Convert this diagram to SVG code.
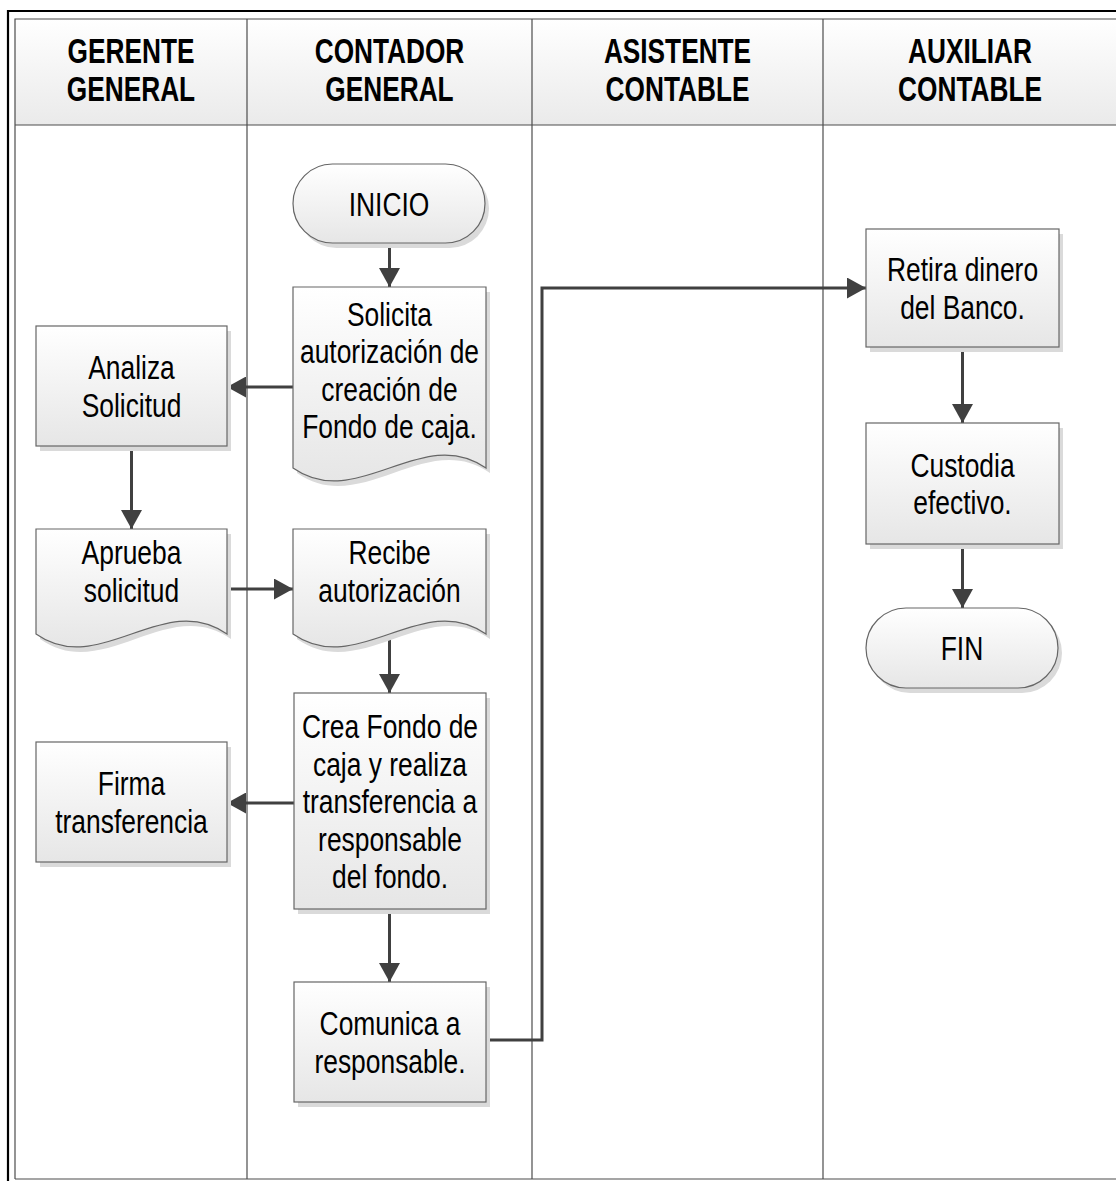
<svg xmlns="http://www.w3.org/2000/svg" width="1116" height="1181" viewBox="0 0 1116 1181">
  <style>
    .lane { stroke: #4d4d4d; stroke-width: 1.2; fill: none; }
    .shape { fill: url(#nodeFill); stroke: #666; stroke-width: 1.2; }
    .shadow { fill: #dadada; }
    .t { font-family: "Liberation Sans", Arial, sans-serif; font-size: 33px; fill: #000; text-anchor: middle; }
    .h { font-family: "Liberation Sans", Arial, sans-serif; font-size: 35px; font-weight: bold; fill: #000; text-anchor: middle; }
    .edge { stroke: #404040; stroke-width: 3; fill: none; marker-end: url(#arrow); }
  </style>
  <defs>
    <linearGradient id="nodeFill" x1="0" y1="0" x2="0" y2="1">
      <stop offset="0" stop-color="#ffffff"/>
      <stop offset="1" stop-color="#e6e6e6"/>
    </linearGradient>
    <linearGradient id="headFill" x1="0" y1="0" x2="0" y2="1">
      <stop offset="0" stop-color="#ffffff"/>
      <stop offset="1" stop-color="#eaeaea"/>
    </linearGradient>
    <marker id="arrow" markerUnits="userSpaceOnUse" markerWidth="19" markerHeight="21" refX="19" refY="10.5" orient="auto">
      <path d="M0,0 L19,10.5 L0,21 Z" fill="#404040"/>
    </marker>
  </defs>

  <rect width="1116" height="1181" fill="#ffffff"/>

  <!-- swimlane frame -->
  <g id="frame">
    <rect x="15" y="19" width="1102" height="106" fill="url(#headFill)"/>
    <path d="M8,1181 V11 H1116" stroke="#000" stroke-width="2.2" fill="none"/>
    <path d="M15,1179 V19 H1116" class="lane"/>
    <path d="M15,1179 H1116" class="lane"/>
    <path d="M15,125 H1116" class="lane"/>
    <path d="M247,19 V1179 M532,19 V1179 M823,19 V1179" class="lane"/>
  </g>

  <g id="headers">
    <text class="h" transform="translate(131,63) scale(0.75,1)">GERENTE</text>
    <text class="h" transform="translate(131,101) scale(0.75,1)">GENERAL</text>
    <text class="h" transform="translate(389.5,63) scale(0.75,1)">CONTADOR</text>
    <text class="h" transform="translate(389.5,101) scale(0.75,1)">GENERAL</text>
    <text class="h" transform="translate(677.5,63) scale(0.75,1)">ASISTENTE</text>
    <text class="h" transform="translate(677.5,101) scale(0.75,1)">CONTABLE</text>
    <text class="h" transform="translate(970,63) scale(0.75,1)">AUXILIAR</text>
    <text class="h" transform="translate(970,101) scale(0.75,1)">CONTABLE</text>
  </g>

  <!-- connectors -->
  <g id="connectors">
    <path class="edge" d="M389.5,243 V287"/>
    <path class="edge" d="M293,387 H227"/>
    <path class="edge" d="M131.5,446 V529"/>
    <path class="edge" d="M227,589 H293"/>
    <path class="edge" d="M389.5,634 V693"/>
    <path class="edge" d="M294,803 H227"/>
    <path class="edge" d="M389.5,909 V982"/>
    <path class="edge" d="M486,1040 H542 V288 H866"/>
    <path class="edge" d="M962.5,347 V423"/>
    <path class="edge" d="M962.5,544 V608"/>
  </g>

  <g id="inicio">
    <rect class="shadow" x="297" y="169" width="192" height="79" rx="39.5"/>
    <rect class="shape" x="293" y="164" width="192" height="79" rx="39.5"/>
    <text class="t" transform="translate(389,215.5) scale(0.8,1)">INICIO</text>
  </g>

  <g id="solicita">
    <path class="shadow" d="M297,292 H490 V473 C425.7,428 361.3,518 297,473 Z"/>
    <path class="shape" d="M293,287 H486 V468 C421.7,423 357.3,513 293,468 Z"/>
    <text class="t" transform="translate(389.5,325.5) scale(0.8,1)">Solicita</text>
    <text class="t" transform="translate(389.5,363) scale(0.8,1)">autorización de</text>
    <text class="t" transform="translate(389.5,400.5) scale(0.8,1)">creación de</text>
    <text class="t" transform="translate(389.5,438) scale(0.8,1)">Fondo de caja.</text>
  </g>

  <g id="analiza">
    <rect class="shadow" x="40" y="331" width="191" height="120"/>
    <rect class="shape" x="36" y="326" width="191" height="120"/>
    <text class="t" transform="translate(131.5,379) scale(0.8,1)">Analiza</text>
    <text class="t" transform="translate(131.5,416.5) scale(0.8,1)">Solicitud</text>
  </g>

  <g id="aprueba">
    <path class="shadow" d="M40,534 H231 V639 C167.3,594 103.7,684 40,639 Z"/>
    <path class="shape" d="M36,529 H227 V634 C163.3,589 99.7,679 36,634 Z"/>
    <text class="t" transform="translate(131.5,564) scale(0.8,1)">Aprueba</text>
    <text class="t" transform="translate(131.5,601.5) scale(0.8,1)">solicitud</text>
  </g>

  <g id="recibe">
    <path class="shadow" d="M297,534 H490 V639 C425.7,594 361.3,684 297,639 Z"/>
    <path class="shape" d="M293,529 H486 V634 C421.7,589 357.3,679 293,634 Z"/>
    <text class="t" transform="translate(389.5,564) scale(0.8,1)">Recibe</text>
    <text class="t" transform="translate(389.5,601.5) scale(0.8,1)">autorización</text>
  </g>

  <g id="crea">
    <rect class="shadow" x="298" y="698" width="192" height="216"/>
    <rect class="shape" x="294" y="693" width="192" height="216"/>
    <text class="t" transform="translate(390,738) scale(0.8,1)">Crea Fondo de</text>
    <text class="t" transform="translate(390,775.5) scale(0.8,1)">caja y realiza</text>
    <text class="t" transform="translate(390,813) scale(0.8,1)">transferencia a</text>
    <text class="t" transform="translate(390,850.5) scale(0.8,1)">responsable</text>
    <text class="t" transform="translate(390,888) scale(0.8,1)">del fondo.</text>
  </g>

  <g id="firma">
    <rect class="shadow" x="40" y="747" width="191" height="120"/>
    <rect class="shape" x="36" y="742" width="191" height="120"/>
    <text class="t" transform="translate(131.5,795) scale(0.8,1)">Firma</text>
    <text class="t" transform="translate(131.5,832.5) scale(0.8,1)">transferencia</text>
  </g>

  <g id="comunica">
    <rect class="shadow" x="298" y="987" width="192" height="120"/>
    <rect class="shape" x="294" y="982" width="192" height="120"/>
    <text class="t" transform="translate(390,1035) scale(0.8,1)">Comunica a</text>
    <text class="t" transform="translate(390,1072.5) scale(0.8,1)">responsable.</text>
  </g>

  <g id="retira">
    <rect class="shadow" x="870" y="234" width="193" height="118"/>
    <rect class="shape" x="866" y="229" width="193" height="118"/>
    <text class="t" transform="translate(962.5,281) scale(0.8,1)">Retira dinero</text>
    <text class="t" transform="translate(962.5,318.5) scale(0.8,1)">del Banco.</text>
  </g>

  <g id="custodia">
    <rect class="shadow" x="870" y="428" width="193" height="121"/>
    <rect class="shape" x="866" y="423" width="193" height="121"/>
    <text class="t" transform="translate(962.5,476.5) scale(0.8,1)">Custodia</text>
    <text class="t" transform="translate(962.5,514) scale(0.8,1)">efectivo.</text>
  </g>

  <g id="fin">
    <rect class="shadow" x="870" y="613" width="192" height="80" rx="40"/>
    <rect class="shape" x="866" y="608" width="192" height="80" rx="40"/>
    <text class="t" transform="translate(962,660) scale(0.8,1)">FIN</text>
  </g>
</svg>
